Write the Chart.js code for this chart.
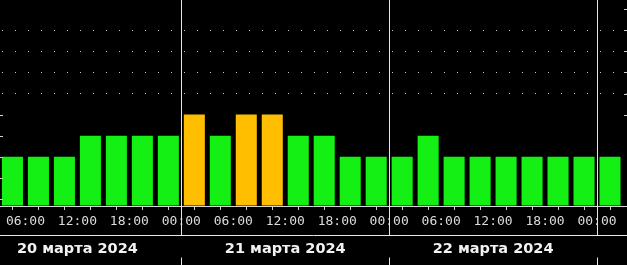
<!DOCTYPE html>
<html>
<head>
<meta charset="utf-8">
<script src="https://cdn.jsdelivr.net/npm/chart.js@4.4.1/dist/chart.umd.min.js"></script>
<style>
html,body{margin:0;padding:0;background:#000;}
#wrap{position:relative;width:627px;height:265px;}
</style>
</head>
<body>
<div id="wrap"><canvas id="c"></canvas></div>
<script>
// ---- data ----
const dayLabels = ['20 марта 2024', '21 марта 2024', '22 марта 2024'];
const timeLabels = ['00:00', '06:00', '12:00', '18:00'];   // every 6 h
const slotsPerDay = 8;            // 3-hour slots
const firstSlot = 1;              // first visible bar: 20 марта 03:00
const kpValues = [
  2, 2, 2, 3, 3, 3, 3,            // 20 марта 03–24
  4, 3, 4, 4, 3, 3, 2, 2,         // 21 марта
  2, 3, 2, 2, 2, 2, 2, 2,         // 22 марта
  2                               // 23 марта 00–03
];
const gridLevels = [5, 6, 7, 8, 9];
const leftTickLevels = [0, 1, 2, 3, 4];
const rightTickLevels = [4, 5, 6, 7, 8, 9];

const GREEN = '#14f014';
const ORANGE = '#ffbe00';
const yMin = -0.33, yMax = 9.43;
const xMin = firstSlot + 0.02, xMax = firstSlot + 0.02 + 627 / 26;

const points = kpValues.map((v, i) => ({x: firstSlot + i + 0.5, y: v}));

const decor = {
  id: 'decor',
  afterDraw(chart) {
    const ctx = chart.ctx;
    const xs = chart.scales.x, ys = chart.scales.y;
    const ca = chart.chartArea;
    const W = chart.width, H = chart.height;
    const lineY = ca.bottom + 29.5;
    ctx.save();
    ctx.strokeStyle = '#e6e6e6';
    ctx.lineWidth = 1;
    // horizontal separator under time labels
    ctx.beginPath();
    ctx.moveTo(0, lineY); ctx.lineTo(W, lineY);
    ctx.stroke();
    // day separators
    for (let d = 1; d <= dayLabels.length; d++) {
      const px = Math.round(xs.getPixelForValue(d * slotsPerDay)) + 0.5;
      ctx.beginPath();
      ctx.moveTo(px, ca.top); ctx.lineTo(px, lineY);
      ctx.moveTo(px, lineY + 22); ctx.lineTo(px, H);
      ctx.stroke();
    }
    // small level ticks
    ctx.strokeStyle = '#cfcfcf';
    leftTickLevels.forEach(v => {
      const py = Math.round(ys.getPixelForValue(v)) + 0.5;
      ctx.beginPath(); ctx.moveTo(ca.left, py); ctx.lineTo(ca.left + 3, py); ctx.stroke();
    });
    rightTickLevels.forEach(v => {
      const py = Math.round(ys.getPixelForValue(v)) + 0.5;
      ctx.beginPath(); ctx.moveTo(W - 3, py); ctx.lineTo(W, py); ctx.stroke();
    });
    // date labels
    ctx.fillStyle = '#f2f2f2';
    ctx.font = 'bold 14.5px "DejaVu Sans"';
    ctx.textAlign = 'center';
    ctx.textBaseline = 'middle';
    dayLabels.forEach((t, d) => {
      const px = xs.getPixelForValue(d * slotsPerDay + slotsPerDay / 2);
      ctx.fillText(t, px, lineY + 13.5);
    });
    ctx.restore();
  }
};

new Chart(document.getElementById('c'), {
  type: 'bar',
  data: {
    datasets: [{
      data: points,
      base: yMin,
      backgroundColor: ctx => (ctx.raw && ctx.raw.y >= 4) ? ORANGE : GREEN,
      borderWidth: 0,
      barPercentage: 0.81,
      categoryPercentage: 1.0
    }]
  },
  options: {
    responsive: true,
    maintainAspectRatio: false,
    devicePixelRatio: 1,
    animation: false,
    layout: {padding: 0},
    plugins: {legend: {display: false}, tooltip: {enabled: false}},
    scales: {
      x: {
        type: 'linear',
        min: xMin,
        max: xMax,
        offset: false,
        afterFit(s) { s.height = 59; },
        ticks: {
          stepSize: 1,
          includeBounds: false,
          autoSkip: false,
          maxRotation: 0,
          padding: 4,
          color: '#dcdcdc',
          font: {family: '"DejaVu Sans Mono"', size: 13},
          callback: v => (Number.isInteger(v) && v % 2 === 0) ? timeLabels[(v % slotsPerDay) / 2] : ''
        },
        grid: {
          drawOnChartArea: false,
          drawTicks: true,
          tickLength: 4,
          tickColor: '#d0d0d0'
        },
        border: {display: true, color: '#d8d8d8', width: 1}
      },
      y: {
        min: yMin,
        max: yMax,
        afterFit(s) { s.width = 0; },
        ticks: {display: false, stepSize: 1},
        grid: {
          drawTicks: false,
          color: ctx => (ctx.tick && gridLevels.includes(ctx.tick.value)) ? '#c8c8c8' : 'rgba(0,0,0,0)',
          lineWidth: 1
        },
        border: {display: false, dash: [1, 12], dashOffset: -2}
      }
    }
  },
  plugins: [decor]
});
</script>
</body>
</html>
